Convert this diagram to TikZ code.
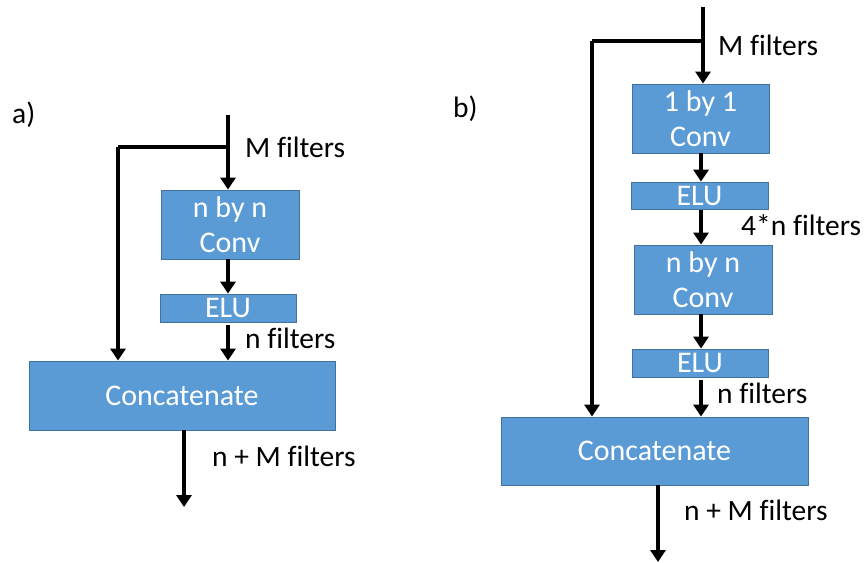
\documentclass[tikz,border=0pt]{standalone}
\usepackage{fontspec}
\setmainfont{Carlito}[Ligatures=NoCommon]
\usetikzlibrary{arrows.meta,calc}
\begin{document}
\begin{tikzpicture}[x=1pt,y=-1pt,
  box/.style={draw=boxborder,fill=boxfill,line width=0.8pt,text=white,align=center,inner sep=0pt,font=\fontsize{30}{35}\selectfont},
  lbl/.style={anchor=base west,inner sep=0pt,font=\fontsize{29.5}{35}\selectfont},
  conn/.style={line width=3.6pt,draw=black},
  arr/.style={conn,-{Triangle[width=15pt,length=12pt]}}]
\definecolor{boxfill}{HTML}{5B9BD5}
\definecolor{boxborder}{HTML}{41719C}
\useasboundingbox (0,0) rectangle (867,562);
% ---------- a ----------
\node[lbl] (la) at (12,123) {a)};
\node[box,minimum width=138,minimum height=69] (convA) at (230,224.5) {n by n\\Conv};
\node[box,minimum width=136,minimum height=28] (eluA) at (228,308) {ELU};
\node[box,minimum width=306,minimum height=69] (catA) at (182,395.5) {Concatenate};
\coordinate (inA) at (228,115);
\coordinate (jA) at (228,147);
\coordinate (brA) at (118,147);
\coordinate (outA) at (184,507);
\draw[arr] (inA) -- (inA |- convA.north);
\draw[conn] (jA) -- (brA);
\draw[arr] (brA) -- (brA |- catA.north);
\draw[arr] (inA |- convA.south) -- (inA |- eluA.north);
\draw[arr,shorten <=3pt] (inA |- eluA.south) -- (inA |- catA.north);
\draw[arr] (catA.south -| outA) -- (outA);
\node[lbl] (mA) at (245,157) {M filters};
\node[lbl] (nA) at (245,348) {n filters};
\node[lbl] (nmA) at (212,466) {n + M filters};
% ---------- b ----------
\node[lbl] (lb) at (453,117) {b)};
\node[box,minimum width=137,minimum height=69] (c1B) at (700.5,118.5) {1 by 1\\Conv};
\node[box,minimum width=137,minimum height=27] (e1B) at (699.5,195.5) {ELU};
\node[box,minimum width=138,minimum height=69] (c2B) at (703,279.5) {n by n\\Conv};
\node[box,minimum width=136,minimum height=28] (e2B) at (700,363) {ELU};
\node[box,minimum width=307,minimum height=68] (catB) at (654.5,451) {Concatenate};
\coordinate (inB) at (703,7);
\coordinate (jB) at (703,41);
\coordinate (brB) at (592,41);
\coordinate (xB) at (701,0);
\coordinate (outB) at (658,562);
\draw[arr] (inB) -- (inB |- c1B.north);
\draw[conn] (jB) -- (brB);
\draw[arr] (brB) -- (brB |- catB.north);
\draw[arr] (xB |- c1B.south) -- (xB |- e1B.north);
\draw[arr,shorten <=1pt] (xB |- e1B.south) -- (xB |- c2B.north);
\draw[arr] (xB |- c2B.south) -- (xB |- e2B.north);
\draw[arr,shorten <=3pt] (xB |- e2B.south) -- (xB |- catB.north);
\draw[arr] (catB.south -| outB) -- (outB);
\node[lbl] (mB) at (718,55) {M filters};
\node[lbl] (fB) at (741,235) {4*n filters};
\node[lbl] (nB) at (717,403) {n filters};
\node[lbl] (nmB) at (684,520) {n + M filters};
\end{tikzpicture}
\end{document}
